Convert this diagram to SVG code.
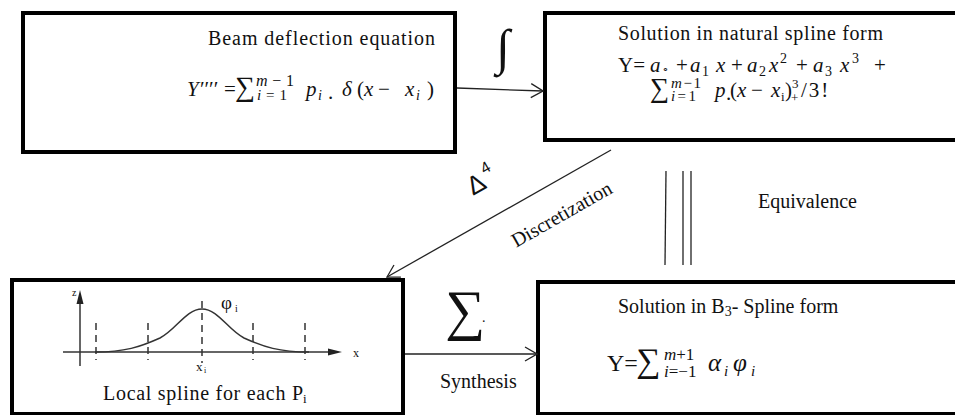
<svg xmlns="http://www.w3.org/2000/svg" width="955" height="415" viewBox="0 0 955 415" font-family="Liberation Serif, Times New Roman, serif">
<style>
.box{fill:#fff;stroke:#000;stroke-width:4}
.t{font-size:20px;fill:#111}
.m{fill:#111}
.i{font-style:italic}
.ln{stroke:#222;stroke-width:1.3;fill:none}
.g{stroke:#333;stroke-width:1.5;fill:none}
.gd{stroke:#333;stroke-width:1.5;fill:none;stroke-dasharray:7,5}
</style>
<defs>
<marker id="arr" viewBox="0 0 14 16" refX="13" refY="8" markerWidth="14" markerHeight="16" orient="auto" markerUnits="userSpaceOnUse">
<path d="M1,1 L13,8 L1,15" fill="none" stroke="#222" stroke-width="1.3"/>
</marker>
</defs>
<rect width="955" height="415" fill="#fff"/>

<g id="beam">
<rect class="box" x="23" y="13" width="432" height="139"/>
<text class="t" x="208" y="45" textLength="227" lengthAdjust="spacing">Beam deflection equation</text>
<g class="m" font-size="21">
<text x="187" y="96" class="i">Y′′′′</text>
<text x="224" y="96">=</text>
<text x="235" y="96" font-size="28">∑</text>
<text x="256" y="86" font-size="16" textLength="38" lengthAdjust="spacing"><tspan class="i">m</tspan>−1</text>
<text x="257" y="100" font-size="15" textLength="30" lengthAdjust="spacing"><tspan class="i">i</tspan>=1</text>
<text x="306" y="96" class="i">p</text>
<text x="318" y="100" font-size="14" class="i">i</text>
<text x="328" y="99">.</text>
<text x="342" y="96" class="i">δ</text>
<text x="357" y="96">(</text>
<text x="364" y="96" class="i">x</text>
<text x="378" y="96">−</text>
<text x="405" y="96" class="i">x</text>
<text x="416" y="100" font-size="14" class="i">i</text>
<text x="427" y="96">)</text>
</g>
</g>

<g id="natural">
<rect class="box" x="545" y="13" width="420" height="127"/>
<text class="t" x="618" y="40" textLength="265" lengthAdjust="spacing">Solution in natural spline form</text>
<g class="m" font-size="21">
<text x="618" y="72">Y=</text>
<text x="650" y="72" class="i">a</text>
<text x="662" y="73" font-size="11">∘</text>
<text x="676" y="72">+</text>
<text x="690" y="72" class="i">a</text>
<text x="702" y="76" font-size="14">1</text>
<text x="716" y="72" class="i">x</text>
<text x="731" y="72">+</text>
<text x="747" y="72" class="i">a</text>
<text x="759" y="76" font-size="14">2</text>
<text x="769" y="72" class="i">x</text>
<text x="780" y="63" font-size="14">2</text>
<text x="796" y="72">+</text>
<text x="813" y="72" class="i">a</text>
<text x="825" y="76" font-size="14">3</text>
<text x="840" y="72" class="i">x</text>
<text x="852" y="63" font-size="14">3</text>
<text x="874" y="72">+</text>
<text x="650" y="97" font-size="27">∑</text>
<text x="671" y="88" font-size="15" textLength="30" lengthAdjust="spacing"><tspan class="i">m</tspan>−1</text>
<text x="671" y="101" font-size="15" textLength="25" lengthAdjust="spacing"><tspan class="i">i</tspan>=1</text>
<text x="715" y="97" class="i">p</text>
<text x="726" y="100">.</text>
<text x="730" y="97">(</text>
<text x="737" y="97" class="i">x</text>
<text x="751" y="97">−</text>
<text x="771" y="97" class="i">x</text>
<text x="781" y="101" font-size="13">i</text>
<text x="785" y="97">)</text>
<text x="792" y="88" font-size="13">3</text>
<text x="791" y="102" font-size="13">+</text>
<text x="801" y="97" letter-spacing="2">/3!</text>
</g>
</g>

<g id="local">
<rect class="box" x="12" y="280" width="391" height="134"/>
<line class="g" x1="80" y1="302" x2="80" y2="366"/>
<path d="M80,290 L76.5,304 L83.5,304 Z" fill="#222"/>
<text class="m" x="72" y="296" font-size="10">z</text>
<line class="g" x1="63" y1="352" x2="330" y2="352"/>
<path d="M342,352 L328,348.5 L328,355.5 Z" fill="#222"/>
<text class="m" x="353" y="357" font-size="12">x</text>
<line class="gd" x1="96" y1="323" x2="96" y2="360"/>
<line class="gd" x1="148" y1="323" x2="148" y2="360"/>
<line class="gd" x1="202" y1="301" x2="202" y2="363"/>
<line class="gd" x1="253" y1="323" x2="253" y2="360"/>
<line class="gd" x1="305" y1="323" x2="305" y2="360"/>
<path class="g" d="M95,352 C125,352 140,347 160,338 C176,330 186,309 202,309 C218,309 228,330 244,338 C264,347 279,352 309,352"/>
<text class="m" x="221" y="309" font-size="19">φ</text>
<text class="m" x="235" y="312" font-size="10">i</text>
<text class="m" x="196" y="371" font-size="13">x</text>
<text class="m" x="204" y="373" font-size="8">i</text>
<text class="t" x="103" y="400" textLength="200" lengthAdjust="spacing">Local spline for each P</text>
<text class="m" x="303" y="403" font-size="13">i</text>
</g>

<g id="bspline">
<rect class="box" x="538" y="282" width="430" height="132"/>
<text class="t" x="618" y="313">Solution in B<tspan font-size="14" dy="3">3</tspan><tspan dy="-3">- Spline form</tspan></text>
<g class="m">
<text x="607" y="371" font-size="24">Y=</text>
<text x="636" y="372" font-size="34">∑</text>
<text x="664" y="360" font-size="17"><tspan class="i">m</tspan>+1</text>
<text x="664" y="377" font-size="17"><tspan class="i">i</tspan>=−1</text>
<text x="708" y="371" font-size="25" class="i">α</text>
<text x="724" y="376" font-size="15" class="i">i</text>
<text x="733" y="371" font-size="25" class="i">φ</text>
<text x="751" y="376" font-size="15" class="i">i</text>
</g>
</g>

<g id="connectors">
<line class="ln" x1="457" y1="88" x2="543" y2="91" marker-end="url(#arr)"/>
<line class="ln" x1="611" y1="150" x2="387" y2="277" marker-end="url(#arr)"/>
<line class="ln" x1="405" y1="354" x2="537" y2="354" marker-end="url(#arr)"/>
<line class="ln" x1="666" y1="171" x2="665" y2="265"/>
<line class="ln" x1="683" y1="171" x2="683" y2="265"/>
<line class="ln" x1="691" y1="171" x2="691" y2="265"/>
</g>

<g id="labels">
<text class="m" x="496" y="64" font-size="50" font-style="italic">∫</text>
<g transform="translate(473,196) rotate(-30)">
<text font-family="Liberation Sans, Arial, sans-serif" font-size="26" fill="#111">Δ<tspan font-size="16" dx="3" dy="-13">4</tspan></text>
</g>
<text class="t" transform="translate(565,220) rotate(-29.7)" text-anchor="middle">Discretization</text>
<text class="t" x="758" y="208" textLength="99" lengthAdjust="spacing">Equivalence</text>
<text class="m" x="445" y="329" font-size="56">∑</text>
<text class="m" x="482" y="322" font-size="14">.</text>
<text class="t" x="440" y="388">Synthesis</text>
</g>
</svg>
